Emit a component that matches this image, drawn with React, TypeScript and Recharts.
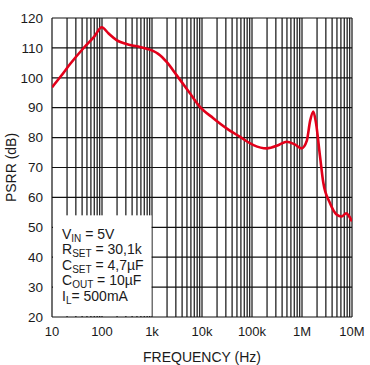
import React from 'react';
import { LineChart, Line, XAxis, YAxis, CartesianGrid, ReferenceArea } from 'recharts';

const FREQ = [10, 15, 23, 42, 70, 99, 134, 196, 363, 575, 785, 1070, 1330, 1960, 3100, 5750, 9100, 16800, 31000, 57000, 107000, 196000, 350000, 490000, 700000, 980000, 1250000, 1450000, 1680000, 1900000, 2290000, 2670000, 3600000, 4900000, 6200000, 7700000, 8500000, 10000000];
const PSRR = [96.8, 100.5, 104.6, 109.8, 113.8, 116.9, 114.9, 112.6, 111, 110.3, 109.7, 108.9, 108, 105.3, 100.9, 94.8, 90.3, 86.5, 83.1, 80.3, 77.5, 76.4, 77.6, 78.6, 77.8, 76.4, 79, 85.5, 88.7, 85, 73.8, 64.9, 58.2, 54.3, 53.6, 54.7, 54, 52];

const DECADES = [10, 100, 1000, 10000, 100000, 1000000, 10000000];
const DECADE_LABELS = ['10', '100', '1k', '10k', '100k', '1M', '10M'];
const MINOR_STEPS = [1, 2, 3, 4, 5, 6, 7, 8, 9];
const Y_TICKS = [20, 30, 40, 50, 60, 70, 80, 90, 100, 110, 120];

const BOX_X = [10, 1000];
const BOX_Y = [20, 54];

const CONDITIONS = [
  { main: 'V', sub: 'IN', rest: ' = 5V' },
  { main: 'R', sub: 'SET', rest: ' = 30,1k' },
  { main: 'C', sub: 'SET', rest: ' = 4,7µF' },
  { main: 'C', sub: 'OUT', rest: ' = 10µF' },
  { main: 'I', sub: 'L', rest: '= 500mA' },
];

const data = FREQ.map((f, i) => ({ f, v: PSRR[i] }));
const xTicks: number[] = [];
DECADES.forEach((d, i) => {
  if (i === DECADES.length - 1) xTicks.push(d);
  else MINOR_STEPS.forEach((m) => xTicks.push(d * m));
});

const FONT = 'Liberation Sans, Arial, sans-serif';
const INK = '#1a1a1a';

const fmtX = (v: number) => {
  const i = DECADES.findIndex((d) => Math.abs(d - v) < d * 1e-6);
  return i >= 0 ? DECADE_LABELS[i] : '';
};

const BoxContent = (props: any) => {
  const vb = props.viewBox || {};
  const x0 = vb.x + 10;
  const y0 = vb.y + 23.5;
  return (
    <g>
      <rect x={vb.x + 1} y={vb.y} width={vb.width - 1.5} height={vb.height - 1} fill="#fff" />
      {CONDITIONS.map((c, i) => (
        <text key={i} x={x0} y={y0 + i * 15.5} fontFamily={FONT} fontSize={14} fill={INK}>
          {c.main}
          <tspan fontSize={10} dy={3}>{c.sub}</tspan>
          <tspan dy={-3}>{c.rest}</tspan>
        </text>
      ))}
    </g>
  );
};

const YLabel = (props: any) => {
  const vb = props.viewBox || {};
  const cx = 11;
  const cy = vb.y + vb.height / 2;
  return (
    <text x={cx} y={cy} transform={`rotate(-90 ${cx} ${cy})`} textAnchor="middle" dominantBaseline="central" fontFamily={FONT} fontSize={14} fill={INK}>
      PSRR (dB)
    </text>
  );
};

const XLabel = (props: any) => {
  const vb = props.viewBox || {};
  const cx = vb.x + vb.width / 2;
  return (
    <text x={cx} y={362} textAnchor="middle" fontFamily={FONT} fontSize={14} fill={INK}>
      FREQUENCY (Hz)
    </text>
  );
};

export default function App() {
  return (
    <div style={{ position: 'absolute', left: 0, top: 0, width: 370, height: 365, background: '#fff' }}>
      <LineChart width={370} height={365} data={data} margin={{ top: 18, right: 18, bottom: 0, left: 0 }}>
        <CartesianGrid stroke="#111" strokeWidth={1.2} verticalValues={xTicks} horizontalValues={Y_TICKS} />
        <XAxis
          dataKey="f"
          type="number"
          scale="log"
          domain={[10, 10000000]}
          ticks={xTicks}
          interval={0}
          tickFormatter={fmtX}
          tickLine={false}
          axisLine={false}
          tickSize={0}
          tickMargin={10}
          height={48}
          tick={{ fontFamily: FONT, fontSize: 13, fill: INK }}
          allowDataOverflow
          label={<XLabel />}
        />
        <YAxis
          type="number"
          domain={[20, 120]}
          ticks={Y_TICKS}
          interval={0}
          tickLine={false}
          axisLine={false}
          tickSize={0}
          tickMargin={9}
          width={52}
          tick={{ fontFamily: FONT, fontSize: 13.5, fill: INK }}
          allowDataOverflow
          label={<YLabel />}
        />
        <ReferenceArea x1={BOX_X[0]} x2={BOX_X[1]} y1={BOX_Y[0]} y2={BOX_Y[1]} fill="#fff" fillOpacity={0} stroke="none" label={<BoxContent />} />
        <Line type="monotone" dataKey="v" stroke="#e2001a" strokeWidth={2.6} dot={false} isAnimationActive={false} />
      </LineChart>
    </div>
  );
}
